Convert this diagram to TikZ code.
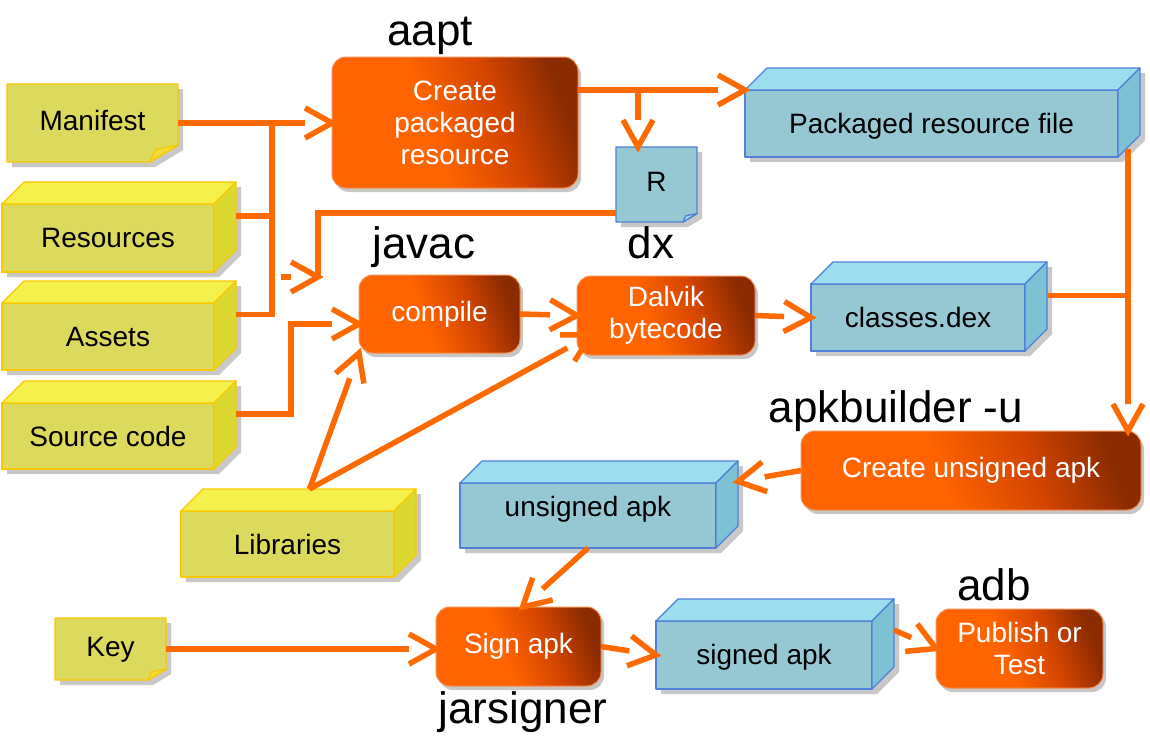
\documentclass[tikz,border=0pt]{standalone}
\usepackage{fontspec}
\setmainfont{Liberation Sans}
\usetikzlibrary{decorations.markings,shadows,calc}

\definecolor{connc}{HTML}{FF6A00}
\definecolor{yfrontc}{HTML}{DCDA5C}
\definecolor{ytopc}{HTML}{F4F04C}
\definecolor{ysidec}{HTML}{DCD832}
\definecolor{ybordc}{HTML}{F9C800}
\definecolor{yfoldc}{HTML}{F2DC3C}
\definecolor{bfrontc}{HTML}{96C8D4}
\definecolor{btopc}{HTML}{9CDEEE}
\definecolor{bsidec}{HTML}{7CC2D4}
\definecolor{bbordc}{HTML}{5080D8}
\definecolor{bfoldc}{HTML}{A4DAEC}
\definecolor{shadowc}{HTML}{C8C8C8}
\definecolor{oA}{HTML}{FF6400}
\definecolor{oB}{HTML}{D24400}
\definecolor{oC}{HTML}{8B2C00}
\definecolor{obordc}{HTML}{F7904F}

\pgfdeclarehorizontalshading{orshade}{100bp}{color(0bp)=(oA); color(25bp)=(oA); color(44bp)=(oA); color(61bp)=(oB); color(75bp)=(oC); color(100bp)=(oC)}

\newcommand\ntxt{\fontsize{28}{32}\selectfont}
\newcommand\ltxt{\fontsize{44}{50}\selectfont}
\def\dd{22}

\tikzset{
  cline/.style={draw=connc, line width=5.5pt, line join=miter},
  arr/.style={cline, shorten >=27pt, postaction={decorate},
    decoration={markings, mark=at position 1 with {\draw[connc, line width=5.5pt, shorten >=0pt, shorten <=0pt, line join=miter, line cap=butt] (-27pt,15pt) -- (0pt,0pt) -- (-27pt,-15pt);}}},
  txt/.style={font=\ntxt, text=black, align=center},
  lbl/.style={font=\ltxt, text=black, inner sep=0pt},
  yface/.style={draw=ybordc, line width=1.3pt, line join=round},
  yfront/.style={yface, fill=yfrontc},
  ytop/.style={yface, fill=ytopc},
  yside/.style={yface, fill=ysidec},
  yfold/.style={yface, fill=yfoldc},
  bface/.style={draw=bbordc, line width=1.3pt, line join=round},
  bfront/.style={bface, fill=bfrontc},
  btop/.style={bface, fill=btopc},
  bside/.style={bface, fill=bsidec},
  bfold/.style={bface, fill=bfoldc},
  obox/.style={rounded corners=14pt, draw=obordc, line width=1pt, shade, shading=orshade, shading angle=20,
    text=white, font=\ntxt, align=center, inner sep=0pt, outer sep=0pt,
    drop shadow={shadow xshift=3pt, shadow yshift=-4pt, fill=black, opacity=0.22}},
  % per-node text placement tweaks
  uatxt/.style={text height=20pt, text depth=17.5pt},
  pkgtxt/.style={text height=26pt, text depth=5.5pt},
  signedtxt/.style={text height=25pt, text depth=5.5pt},
}

% name, x1, y1, x2, y2, kind, text
\newcommand\mycube[7]{%
  \fill[shadowc] (#2+5,#5+5) -- (#2+5,#3+5) -- (#2+\dd+5,#3-\dd+5) -- (#4+\dd+5,#3-\dd+5) -- (#4+\dd+5,#5-\dd+5) -- (#4+5,#5+5) -- cycle;
  \node[#6front, txt, inner sep=0pt, outer sep=0pt, anchor=north west, minimum width=#4-#2, minimum height=#5-#3, #1txt/.try] (#1) at (#2,#3) {#7};
  \filldraw[#6top] (#2,#3) -- (#2+\dd,#3-\dd) -- (#4+\dd,#3-\dd) -- (#4,#3) -- cycle;
  \filldraw[#6side] (#4,#3) -- (#4+\dd,#3-\dd) -- (#4+\dd,#5-\dd) -- (#4,#5) -- cycle;
  \node[inner sep=0pt, outer sep=0pt, anchor=north west, minimum width=#4-#2, minimum height=#5-#3] (#1b) at (#2+\dd,#3-\dd) {};
}
% name, x1, y1, x2, y2, kind, text, fold
\newcommand\mynote[8]{%
  \fill[shadowc] (#2+5,#3+5) -- (#4+5,#3+5) -- (#4+5,#5-0.6*#8+5) -- (#4-#8+5,#5+5) -- (#2+5,#5+5) -- cycle;
  \filldraw[#6front] (#2,#3) -- (#4,#3) -- (#4,#5-0.6*#8) -- (#4-#8,#5) -- (#2,#5) -- cycle;
  \filldraw[#6fold] (#4-#8,#5) -- (#4,#5-0.6*#8) -- (#4-0.8*#8,#5-0.45*#8) -- cycle;
  \node[txt, inner sep=0pt, outer sep=0pt, anchor=north west, minimum width=#4-#2, minimum height=#5-#3, text height=20pt, text depth=6pt] (#1) at (#2,#3) {#7};
}

\begin{document}
\begin{tikzpicture}[x=1pt, y=-1pt]
\fill[white] (0,0) rectangle (1150,750);
\useasboundingbox (0,0) rectangle (1150,750);

% inputs
\mynote{manifest}{7}{84}{178}{162}{y}{Manifest}{28}
\mycube{res}{2}{204}{214}{272}{y}{Resources}
\mycube{assets}{2}{303}{214}{370}{y}{Assets}
\mycube{src}{2}{403}{214}{469}{y}{Source code}
\mycube{lib}{181}{511}{394}{577}{y}{Libraries}
\mynote{key}{55}{618}{166}{680}{y}{Key}{18}

% intermediate files
\mynote{R}{616}{147}{697}{222}{b}{R}{14}
\mycube{pkg}{745}{90}{1118}{157}{b}{Packaged resource file}
\mycube{dex}{811}{284}{1025}{351}{b}{classes.dex}
\mycube{ua}{460}{483}{716}{548}{b}{unsigned apk}
\mycube{signed}{656}{621}{872}{689}{b}{signed apk}

% processes
\node[obox, minimum width=246, minimum height=131] (aapt) at (455,122.5) {Create\\packaged\\resource};
\node[obox, minimum width=161, minimum height=78] (compile) at (439.5,314) {compile};
\node[obox, minimum width=178, minimum height=79] (dalvik) at (666,315.5) {Dalvik\\bytecode};
\node[obox, minimum width=340, minimum height=79] (cua) at (971,470.5) {Create unsigned apk};
\node[obox, minimum width=165, minimum height=79] (sign) at (518.5,646.5) {Sign apk};
\node[obox, minimum width=167, minimum height=79] (pub) at (1019.5,648.5) {Publish or\\Test};

% tool labels
\node[lbl, anchor=base] (laapt) at (430,45) {aapt};
\node[lbl, anchor=base] (ljavac) at (424,258) {javac};
\node[lbl, anchor=base] (ldx) at (651,258) {dx};
\node[lbl, anchor=base] (lapk) at (896,422) {apkbuilder -u};
\node[lbl, anchor=base] (ladb) at (994,600) {adb};
\node[lbl, anchor=base] (ljar) at (523,723) {jarsigner};

% connectors
\coordinate (j1) at (272,123);
\coordinate (rend) at (318,277);
\coordinate (br) at (638,90);
\coordinate (vx) at (1128,0);

\draw[arr] (manifest.east) -- (manifest.east -| aapt.west);
\draw[cline] (resb.east) -- (resb.east -| j1);
\draw[cline] (assetsb.east) -| (j1);
\draw[arr] (srcb.east) -- ++(55,0) |- ($(compile.west)+(0,10)$);
\draw[cline] ($(R.south west)+(0,-9)$) -| (rend);
\draw[arr] ($(rend)+(-37,0)$) -- (rend);
\draw[arr] (aapt.east |- pkg.north west) -- (pkg.north west);
\draw[arr] (br) -- (br |- R.north);
\draw[arr] ([xshift=10pt,yshift=8pt]pkg.south east) -- ([xshift=-13pt]cua.north east);
\draw[cline] (dexb.east) -- (dexb.east -| vx);
\draw[arr] (compile.east) -- (dalvik.west);
\draw[arr] (dalvik.east) -- (dex.west);
\draw[arr] (libb.north) -- (compile.south west);
\draw[arr] (libb.north) -- ($(dalvik.south west)+(14,-20)$);
\draw[arr] (cua.west) -- ($(uab.east)+(0,-12)$);
\draw[arr] (ua.south) -- ([xshift=4pt]sign.north);
\draw[arr] (key.east) -- (key.east -| sign.west);
\draw[arr] (sign.east) -- (signed.west);
\draw[arr] ($(signedb.east)+(0,-3)$) -- (pub.west);
\end{tikzpicture}
\end{document}
